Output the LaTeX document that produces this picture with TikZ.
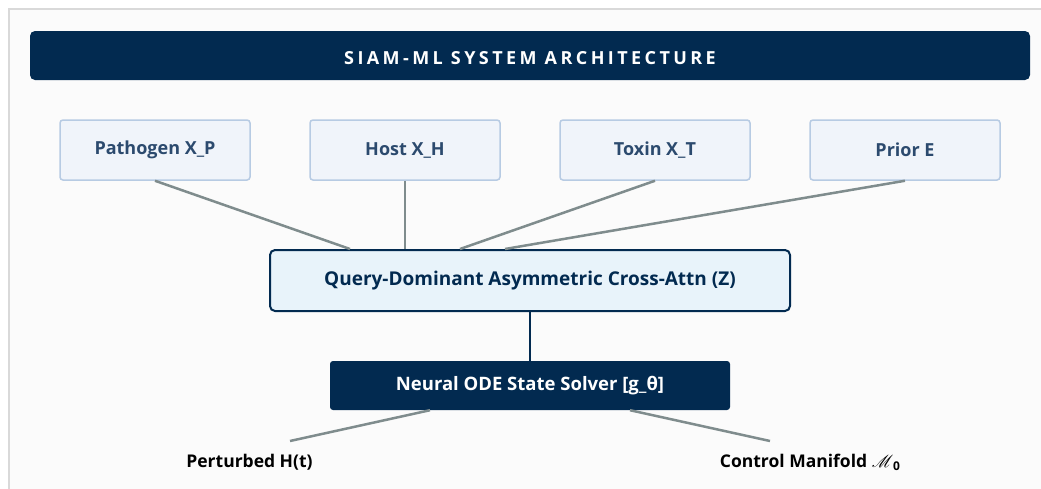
\documentclass[tikz,border=0pt]{standalone}
\usepackage{fontspec}
\usepackage{mathrsfs}
\setmainfont{Open Sans}
\usetikzlibrary{calc}
\definecolor{navy}{HTML}{022A50}
\definecolor{inbox}{HTML}{F0F4FA}
\definecolor{inborder}{HTML}{B7CBE3}
\definecolor{intext}{HTML}{2C4A6E}
\definecolor{qfill}{HTML}{E8F3FA}
\definecolor{link}{HTML}{7F8C8D}
\definecolor{bg}{HTML}{FBFBFB}
\definecolor{frame}{HTML}{D9D9D9}
\newfontfamily\titlefont{Open Sans}[LetterSpace=19]
\tikzset{
  inputbox/.style={draw=inborder, line width=1.5pt, fill=inbox, rounded corners=3pt,
    minimum width=190pt, minimum height=60pt, inner sep=0pt, text=intext,
    font=\bfseries\fontsize{18}{21}\selectfont},
  link/.style={draw=link, line width=2.5pt},
  navylink/.style={draw=navy, line width=2pt},
  outlabel/.style={text=black, font=\bfseries\fontsize{17.5}{20}\selectfont, inner sep=0pt}
}
\begin{document}
\begin{tikzpicture}[x=1pt,y=-1pt]
\useasboundingbox (0,0) rectangle (1041,488);
\fill[white] (0,0) rectangle (1041,488);
\draw[frame, line width=2pt, fill=bg] (9,9) rectangle (1060,510);
\node[fill=navy, rounded corners=5pt, minimum width=1000pt, minimum height=49pt, inner sep=0pt,
  text height=17pt, text depth=0pt,
  text=white, font=\titlefont\bfseries\fontsize{18}{21}\selectfont] (title) at (530,55.5) {SIAM-ML SYSTEM ARCHITECTURE};
\node[inputbox] (p) at (155,150) {Pathogen X\_P};
\node[inputbox] (h) at (405,150) {Host X\_H};
\node[inputbox] (t) at (655,150) {Toxin X\_T};
\node[inputbox] (e) at (905,150) {Prior E};
\node[draw=navy, line width=2pt, fill=qfill, rounded corners=5pt, minimum width=520pt, minimum height=61pt,
  inner sep=0pt, text=navy, font=\bfseries\fontsize{19}{22}\selectfont] (q) at (530,280.5) {Query-Dominant Asymmetric Cross-Attn (Z)};
\node[fill=navy, rounded corners=3pt, minimum width=400pt, minimum height=49pt, inner sep=0pt,
  text=white, font=\bfseries\fontsize{18.5}{21}\selectfont] (o) at (530,385.5) {Neural ODE State Solver [g\_θ]};
\node[outlabel] (l1) at (249.5,462) {Perturbed H(t)};
\node[outlabel] (l2) at (810,462) {Control Manifold $\mathscr{M}$\raisebox{-3pt}{\bfseries\fontsize{12}{14}\selectfont 0}};
\coordinate (c1) at (290,441);
\coordinate (c2) at (770,441);
\draw[link] (p.south) -- ($(q.north)+(-180,0)$);
\draw[link] (h.south) -- ($(q.north)+(-125,0)$);
\draw[link] (t.south) -- ($(q.north)+(-70,0)$);
\draw[link] (e.south) -- ($(q.north)+(-25,0)$);
\draw[navylink] (q.south) -- (o.north);
\draw[link] ($(o.south)+(-100,0)$) -- (c1);
\draw[link] ($(o.south)+(100,0)$) -- (c2);
\end{tikzpicture}
\end{document}
